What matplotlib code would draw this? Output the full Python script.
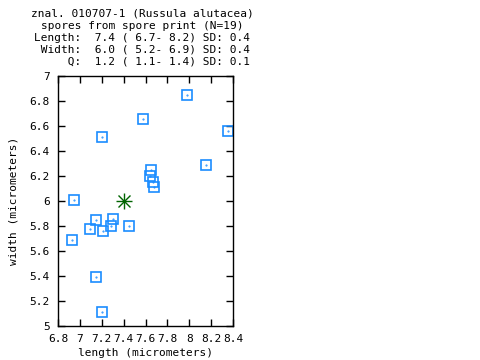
import matplotlib
matplotlib.use('Agg')
import matplotlib.pyplot as plt

# spore measurements (micrometers)
length = [6.95, 7.20, 7.58, 7.98, 8.35, 8.15, 7.65, 7.64, 7.67, 7.68,
          7.15, 7.30, 7.09, 7.28, 7.21, 7.45, 6.93, 7.15, 7.20]
width = [6.01, 6.51, 6.66, 6.85, 6.56, 6.29, 6.25, 6.20, 6.15, 6.11,
         5.85, 5.86, 5.78, 5.80, 5.76, 5.80, 5.69, 5.39, 5.11]
mean_len = 7.4
mean_wid = 6.0

title_lines = [
    "znal. 010707-1 (Russula alutacea)",
    "spores from spore print (N=19)",
    "Length:  7.4 ( 6.7- 8.2) SD: 0.4",
    " Width:  6.0 ( 5.2- 6.9) SD: 0.4",
    "     Q:  1.2 ( 1.1- 1.4) SD: 0.1",
]
xticks = [6.8, 7.0, 7.2, 7.4, 7.6, 7.8, 8.0, 8.2, 8.4]
xlabels = ["6.8", "7", "7.2", "7.4", "7.6", "7.8", "8", "8.2", "8.4"]
yticks = [5.0, 5.2, 5.4, 5.6, 5.8, 6.0, 6.2, 6.4, 6.6, 6.8, 7.0]
ylabels = ["5", "5.2", "5.4", "5.6", "5.8", "6", "6.2", "6.4", "6.6", "6.8", "7"]

plt.rcParams['font.family'] = 'DejaVu Sans Mono'
plt.rcParams['font.size'] = 8

fig = plt.figure(figsize=(4.8, 3.6), dpi=100)
W, H = 480, 360
ax = fig.add_axes([58 / W, 1 - 326 / H, 175 / W, 250 / H])

blue = '#1a8cff'
ax.plot(length, width, 's', ms=7.6, mfc='none', mec=blue, mew=1.2)
ax.plot(length, width, '.', ms=1, color=blue)
ax.plot([mean_len], [mean_wid], '+', ms=12, mew=1, color='#006400')
ax.plot([mean_len], [mean_wid], 'x', ms=8.5, mew=1, color='#006400')
ax.plot([mean_len], [mean_wid], '.', ms=3, color='#006400')

ax.set_xlim(6.8, 8.4)
ax.set_ylim(5, 7)
ax.set_xticks(xticks)
ax.set_xticklabels(xlabels)
ax.set_yticks(yticks)
ax.set_yticklabels(ylabels)
ax.tick_params(direction='in', top=True, right=True, length=5, width=1, pad=6)
for s in ax.spines.values():
    s.set_linewidth(1)

ax.set_xlabel("length (micrometers)", labelpad=3)
ax.set_ylabel("width (micrometers)", labelpad=8)

for i, line in enumerate(title_lines):
    fig.text(142 / W, 1 - (14 + 12 * i) / H, line, ha='center', va='center')

fig.savefig('out.png', dpi=100)
